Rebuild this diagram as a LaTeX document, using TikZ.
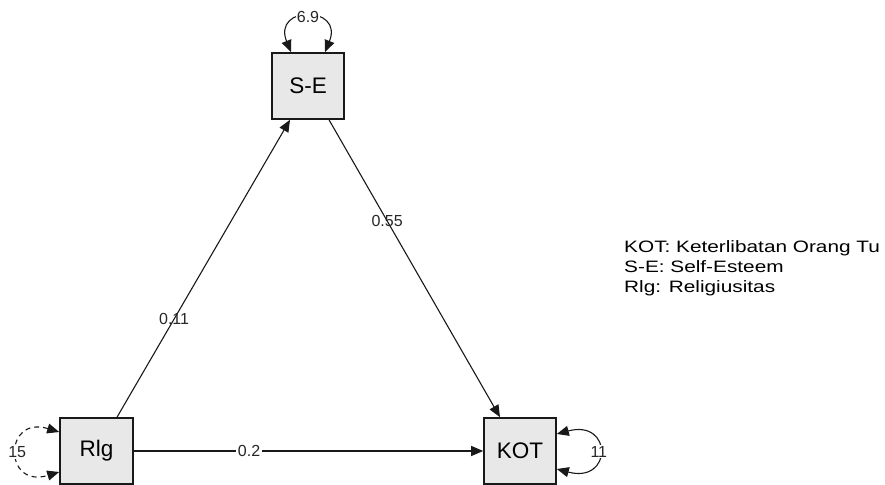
\documentclass[tikz,border=0pt]{standalone}
\usepackage{fontspec}
\setmainfont{Liberation Sans}
\usetikzlibrary{arrows.meta,calc}
\begin{document}
\begin{tikzpicture}[x=1pt,y=-1pt,
  var/.style={draw=black!90, line width=1.6pt, fill=black!9, minimum width=72pt, minimum height=66pt, inner sep=0pt, font=\fontsize{22.5}{26}\selectfont},
  path/.style={draw=black!90, line width=1.1pt, -{Triangle[length=12pt,width=10pt]}},
  loopedge/.style={draw=black!90, line width=1.1pt, {Triangle[length=12pt,width=10pt]}-{Triangle[length=12pt,width=10pt]}},
  elab/.style={font=\fontsize{16}{18}\selectfont, text=black!85, inner sep=0pt},
  llab/.style={elab, fill=white, inner sep=1pt},
  leg/.style={font=\fontsize{16.5}{19}\selectfont, anchor=base west, inner sep=0pt}
]
\useasboundingbox (0,0) rectangle (885,484);
\clip (0,0) rectangle (885,484);
\node[var] (se) at (308,86) {S-E};
\node[var, minimum width=73pt] (rlg) at (96.5,451) {Rlg};
\node[var] (kot) at (520,451) {KOT};
% paths
\draw[path] ([xshift=20.5pt]rlg.north) -- node[elab, pos=0.33] {0.11} ([xshift=-18pt]se.south);
\draw[path] ([xshift=21pt]se.south) -- node[elab, pos=0.34] {0.55} ([xshift=-20pt]kot.north);
\draw[path] (rlg.east) -- node[elab, fill=white, inner xsep=2pt, pos=0.33] {0.2} (kot.west);
% variances
\draw[loopedge] ($(se.north)+(-17,0)$) .. controls +(-19,-47) and +(19,-47) .. node[llab, pos=0.5] {6.9} ($(se.north)+(17,0)$);
\draw[loopedge, dash pattern=on 5pt off 4pt] ($(rlg.west)+(0,-19)$) .. controls +(-56,-17) and +(-56,17) .. node[llab, pos=0.5] {15} ($(rlg.west)+(0,21)$);
\draw[loopedge] ($(kot.east)+(0,-17)$) .. controls +(56,-15) and +(56,15) .. node[llab, pos=0.5] {11} ($(kot.east)+(0,18)$);
% legend
\node[leg] (l1) at (624,252) {\scalebox{1.26}[1]{KOT: Keterlibatan Orang Tu}};
\node[leg] (l2) at (624,272) {\scalebox{1.26}[1]{S-E: Self-Esteem}};
\node[leg] (l3) at (624,292) {\scalebox{1.26}[1]{Rlg: Religiusitas}};
\end{tikzpicture}
\end{document}
